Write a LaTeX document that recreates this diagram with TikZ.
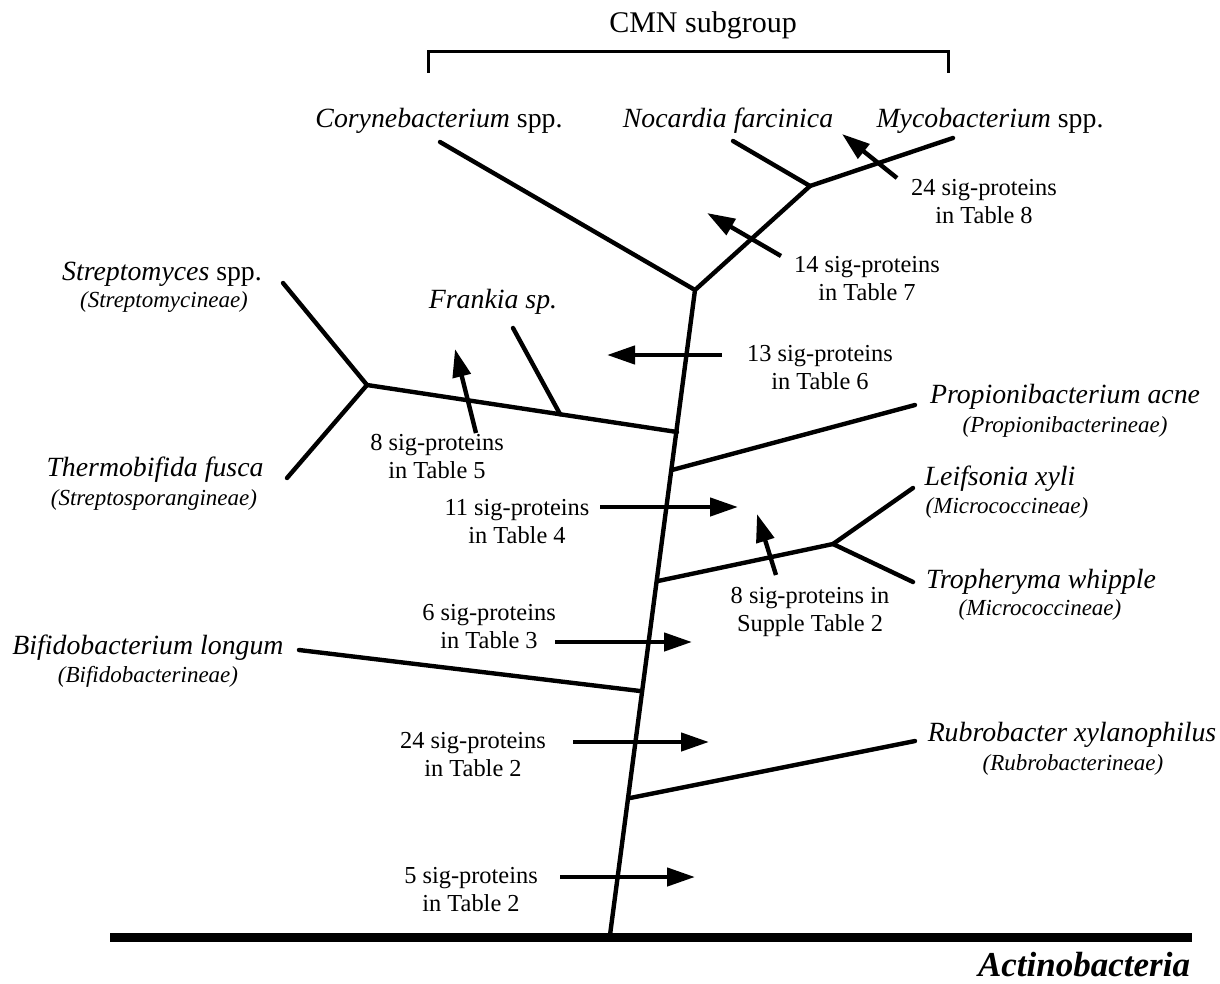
\documentclass[tikz,border=0pt]{standalone}
\usepackage{fontspec}
\setmainfont{Liberation Serif}
\usetikzlibrary{arrows.meta,positioning,calc}

\begin{document}
\begin{tikzpicture}[x=0.5pt, y=-0.5pt,
  branch/.style={line width=2.2pt, line cap=round, line join=round},
  sigarrow/.style={line width=2.2pt, -{Triangle[length=14pt,width=9pt]}},
  taxon/.style={inner sep=0pt, font=\fontsize{13.9}{16}\selectfont\itshape},
  suborder/.style={inner sep=0pt, font=\fontsize{11.5}{13}\selectfont\itshape},
  count/.style={inner sep=0pt, align=center, font=\fontsize{12.2}{14}\selectfont}]
  \useasboundingbox (0,0) rectangle (1220,984);

  % junctions on the tree
  \coordinate (root) at (610,935);
  \coordinate (cmn) at (695,290);
  \coordinate (nm) at (810,186);
  \coordinate (sfj) at (677,432);
  \coordinate (sft) at (367,385);
  \coordinate (frj) at ($(sfj)!0.377!(sft)$);
  \coordinate (prj) at (672,470);
  \coordinate (mcj) at (658,581);
  \coordinate (mct) at (833,544);
  \coordinate (bij) at (640,691);
  \coordinate (rbj) at (630,798);

  % tips
  \coordinate (corytip) at (440,142);
  \coordinate (noctip) at (733,141);
  \coordinate (mycotip) at (953,138);
  \coordinate (streptip) at (283,283);
  \coordinate (thermotip) at (287,478);
  \coordinate (frantip) at (513,328);
  \coordinate (proptip) at (915,405);
  \coordinate (leiftip) at (913,488);
  \coordinate (trophtip) at (913,582);
  \coordinate (bifitip) at (299,650);
  \coordinate (rubrotip) at (915,741);

  % labels
  \node (cmnlabel) at (703,25) {\fontsize{15}{18}\selectfont CMN subgroup};
  \node[taxon] (coryne) at (439,121) {Corynebacterium \textup{spp.}};
  \node[taxon] (nocardia) at (728,121) {Nocardia farcinica};
  \node[taxon] (myco) at (990,121) {Mycobacterium \textup{spp.}};
  \node[taxon] (strep) at (162,274) {Streptomyces \textup{spp.}};
  \node[suborder] (strepsub) at (164,302) {(Streptomycineae)};
  \node[taxon] (thermo) at (155,470) {Thermobifida fusca};
  \node[suborder] (thermosub) at (154,500) {(Streptosporangineae)};
  \node[taxon] (frankia) at (493,302) {Frankia sp.};
  \node[taxon] (propioni) at (1065,397) {Propionibacterium acne};
  \node[suborder] (propionisub) at (1065,427) {(Propionibacterineae)};
  \node[taxon] (leifsonia) at (1000,479) {Leifsonia xyli};
  \node[suborder] (leifsub) at (1007,508) {(Micrococcineae)};
  \node[taxon] (tropheryma) at (1041,582) {Tropheryma whipple};
  \node[suborder] (trophsub) at (1040,610) {(Micrococcineae)};
  \node[taxon] (bifido) at (148,648) {Bifidobacterium longum};
  \node[suborder] (bifidosub) at (148,677) {(Bifidobacterineae)};
  \node[taxon] (rubro) at (1072,735) {Rubrobacter xylanophilus};
  \node[suborder] (rubrosub) at (1073,765) {(Rubrobacterineae)};
  \node[inner sep=0pt, anchor=base] (actino) at (1084,976) {\fontsize{17.5}{20}\selectfont\bfseries\itshape Actinobacteria};

  \node[count] (t8) at (984,202) {24 sig-proteins\\in Table 8};
  \node[count] (t7) at (867,279) {14 sig-proteins\\in Table 7};
  \node[count] (t6) at (820,368) {13 sig-proteins\\in Table 6};
  \node[count] (t5) at (437,457) {8 sig-proteins\\in Table 5};
  \node[count] (t4) at (517,522) {11 sig-proteins\\in Table 4};
  \node[count] (ts2) at (810,612) {8 sig-proteins in\\Supple Table 2};
  \node[count] (t3) at (489,627) {6 sig-proteins\\in Table 3};
  \node[count] (t2a) at (473,755) {24 sig-proteins\\in Table 2};
  \node[count] (t2b) at (471,890) {5 sig-proteins\\in Table 2};

  % CMN bracket and base line
  \draw[line width=1.5pt] (428,73) -- (428,52) -- (948,52) -- (948,73);
  \draw[line width=4.5pt] (110,937) -- (1192,937);

  % tree
  \draw[branch] (root) -- (cmn);
  \draw[branch] (cmn) -- (corytip);
  \draw[branch] (cmn) -- (nm);
  \draw[branch] (nm) -- (noctip);
  \draw[branch] (nm) -- (mycotip);
  \draw[branch] (sfj) -- (sft);
  \draw[branch] (sft) -- (streptip);
  \draw[branch] (sft) -- (thermotip);
  \draw[branch] (frj) -- (frantip);
  \draw[branch] (prj) -- (proptip);
  \draw[branch] (mcj) -- (mct);
  \draw[branch] (mct) -- (leiftip);
  \draw[branch] (mct) -- (trophtip);
  \draw[branch] (bifitip) -- (bij);
  \draw[branch] (rbj) -- (rubrotip);

  % signature protein arrows
  \coordinate (a8s) at (897,178);  \coordinate (a8e) at (842,134);
  \coordinate (a7s) at (781,256);  \coordinate (a7e) at (707,213);
  \coordinate (a6s) at (722,355);  \coordinate (a6e) at (607,355);
  \coordinate (a5s) at (476,433);  \coordinate (a5e) at (455,349);
  \coordinate (a4s) at (600,507);  \coordinate (a4e) at (738,507);
  \coordinate (as2s) at (776,575); \coordinate (as2e) at (757,514);
  \coordinate (a3s) at (555,642);  \coordinate (a3e) at (692,642);
  \coordinate (a2s) at (573,742);  \coordinate (a2e) at (709,742);
  \coordinate (a1s) at (560,877);  \coordinate (a1e) at (695,877);
  \draw[sigarrow] (a8s) -- (a8e);
  \draw[sigarrow] (a7s) -- (a7e);
  \draw[sigarrow] (a6s) -- (a6e);
  \draw[sigarrow] (a5s) -- (a5e);
  \draw[sigarrow] (a4s) -- (a4e);
  \draw[sigarrow] (as2s) -- (as2e);
  \draw[sigarrow] (a3s) -- (a3e);
  \draw[sigarrow] (a2s) -- (a2e);
  \draw[sigarrow] (a1s) -- (a1e);
\end{tikzpicture}
\end{document}
